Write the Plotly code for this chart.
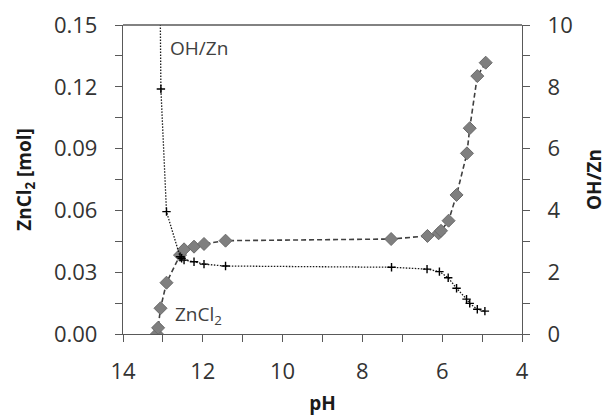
import plotly.graph_objects as go

# ZnCl2 series (left axis)
ph_zn = [13.15, 13.12, 13.06, 12.91, 12.57, 12.47, 12.22, 11.97, 11.43,
         7.28, 6.37, 6.09, 6.03, 5.84, 5.64, 5.38, 5.31, 5.12, 4.91]
zncl2 = [0.000, 0.003, 0.0125, 0.0249, 0.0383, 0.0411, 0.0424, 0.0437, 0.0453,
         0.0461, 0.0476, 0.0489, 0.0501, 0.055, 0.0675, 0.0877, 0.0999, 0.1252, 0.1317]

# OH/Zn series (right axis)
ph_oh = [13.09, 13.05, 12.91, 12.57, 12.53, 12.47, 12.22, 11.97, 11.43,
         7.27, 6.38, 6.07, 5.85, 5.64, 5.39, 5.31, 5.12, 4.93]
oh_zn = [14.0, 7.93, 3.96, 2.5, 2.45, 2.39, 2.34, 2.26, 2.2,
         2.16, 2.10, 2.02, 1.82, 1.48, 1.13, 0.99, 0.80, 0.74]

FONT = "Open Sans"
AX = "#595959"
TXT = "#333333"

fig = go.Figure()
fig.add_trace(go.Scatter(
    x=ph_zn, y=zncl2, mode="lines+markers", name="ZnCl2",
    line=dict(color="#404040", width=1.6, dash="5px,3px"),
    marker=dict(symbol="diamond", size=10, color="#7f7f7f",
                line=dict(color="#6a6a6a", width=1)),
    yaxis="y", showlegend=False))
fig.add_trace(go.Scatter(
    x=ph_oh, y=oh_zn, mode="lines+markers", name="OH/Zn",
    line=dict(color="#1a1a1a", width=1.3, dash="1.5px,1.5px"),
    marker=dict(symbol="cross-thin", size=6, color="black",
                line=dict(color="black", width=1.4)),
    yaxis="y2", showlegend=False))

tickfont = dict(family=FONT, size=22, color=TXT)
titlefont = dict(family=FONT, size=19, color="#1a1a1a", weight="bold")

tick_common = dict(ticks="outside", ticklen=7, tickcolor=AX, tickwidth=1.3,
                   showline=True, linecolor=AX, linewidth=1.3, automargin=False,
                   showgrid=False, zeroline=False, tickfont=tickfont)
minor_common = dict(ticks="outside", ticklen=7, tickcolor=AX, tickwidth=1.3)

fig.update_layout(
    width=610, height=416,
    margin=dict(l=123, r=88, t=25, b=82),
    paper_bgcolor="white", plot_bgcolor="white",
    xaxis=dict(range=[14, 4], tickvals=[14, 12, 10, 8, 6, 4],
               minor=dict(tickvals=[13, 11, 9, 7, 5], **minor_common),
               ticklabelstandoff=10,
               title=dict(text="pH", font=titlefont, standoff=14), **tick_common),
    yaxis=dict(range=[0, 0.15], tickvals=[0, 0.03, 0.06, 0.09, 0.12, 0.15],
               tickformat=".2f",
               minor=dict(tickvals=[0.015, 0.045, 0.075, 0.105, 0.135], **minor_common),
               ticklabelstandoff=13,
               title=dict(text="ZnCl<sub>2</sub> [mol]", font=titlefont, standoff=17),
               **tick_common),
    yaxis2=dict(range=[0, 10], tickvals=[0, 2, 4, 6, 8, 10], overlaying="y", side="right",
                minor=dict(tickvals=[1, 3, 5, 7, 9], **minor_common),
                ticklabelstandoff=13,
                title=dict(text="OH/Zn", font=titlefont, standoff=15),
                **tick_common),
    shapes=[dict(type="line", xref="paper", yref="paper", x0=0, x1=1, y0=1, y1=1,
                 line=dict(color=AX, width=1.3))],
    annotations=[
        dict(x=12.87, y=0.1388, xref="x", yref="y", text="OH/Zn", showarrow=False,
             xanchor="left", yanchor="middle", font=dict(family=FONT, size=19, color="#404040")),
        dict(x=12.74, y=0.0092, xref="x", yref="y", text="ZnCl<sub>2</sub>", showarrow=False,
             xanchor="left", yanchor="middle", font=dict(family=FONT, size=19, color="#404040")),
    ],
)

fig.write_html("out.html")
